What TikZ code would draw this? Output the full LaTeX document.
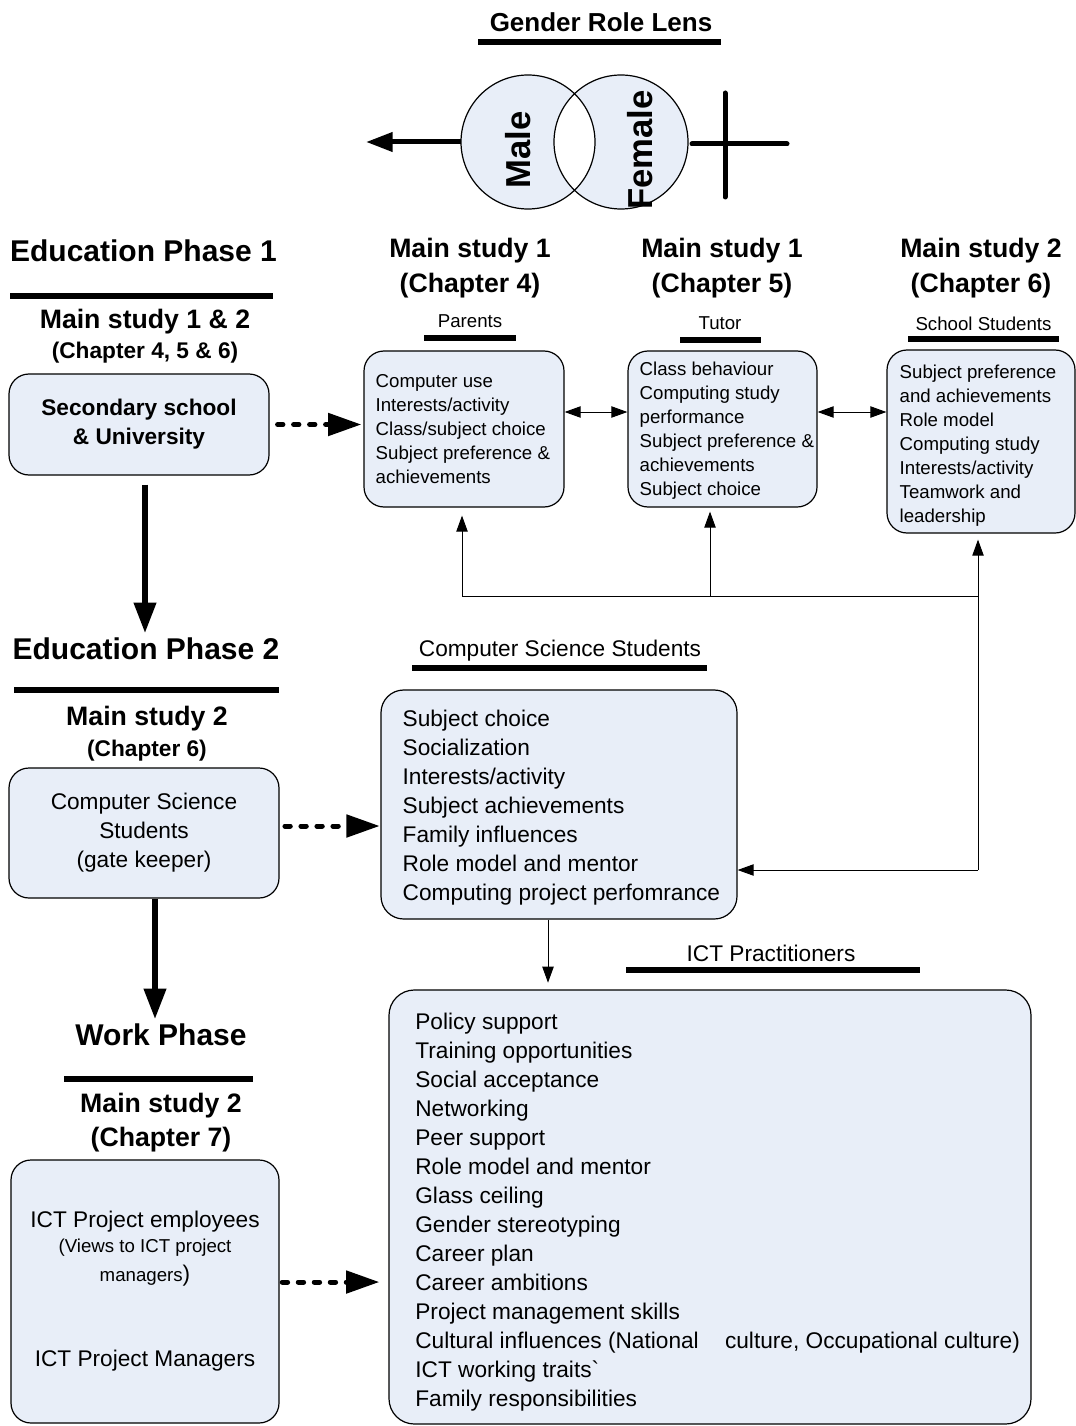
\documentclass[tikz,border=0pt]{standalone}
\usepackage{fontspec}
\setmainfont{Liberation Sans}
\usetikzlibrary{arrows.meta}
\definecolor{boxfill}{RGB}{232,238,248}
\begin{document}
\begin{tikzpicture}[x=0.75pt,y=-0.75pt,
  box/.style={draw=black, line width=0.9pt, fill=boxfill, rounded corners=15pt, inner sep=0pt},
  boxtext/.style={align=left, anchor=west, inner sep=0pt},
  titlef/.style={font=\fontsize{19.5}{23}\selectfont\bfseries},
  hdr/.style={font=\fontsize{22.5}{27}\selectfont\bfseries},
  ms/.style={font=\fontsize{20}{24}\selectfont\bfseries},
  chap/.style={font=\fontsize{17}{20}\selectfont\bfseries},
  lbl/.style={font=\fontsize{17}{21.75}\selectfont},
  small/.style={font=\fontsize{14}{18}\selectfont},
  bar/.style={line width=4.5pt},
  bigarrow/.style={line width=4.5pt, -{Triangle[length=23pt,width=16pt]}},
  dasharrow/.style={line width=3.75pt, dash pattern=on 4pt off 8pt, line cap=round, -{Triangle[length=25pt,width=16.5pt]}},
  thinarrow/.style={line width=0.75pt, -{Triangle[length=12pt,width=8.5pt]}},
  dblarrow/.style={line width=0.75pt, {Triangle[length=12pt,width=8.5pt]}-{Triangle[length=12pt,width=8.5pt]}}
]
\useasboundingbox (0,0) rectangle (1075,1426);

% ---------- Gender role lens ----------
\node[titlef] (title) at (601,22) {Gender Role Lens};
\draw[bar] (478,42) -- (721,42);
\fill[boxfill] (528,142) circle[radius=50.25pt];
\fill[boxfill] (621,142) circle[radius=50.25pt];
\begin{scope}
  \clip (528,142) circle[radius=50.25pt];
  \fill[white] (621,142) circle[radius=50.25pt];
\end{scope}
\draw[line width=0.9pt] (528,142) circle[radius=50.25pt];
\draw[line width=0.9pt] (621,142) circle[radius=50.25pt];
\node[rotate=90, font=\fontsize{26}{30}\selectfont\bfseries] (maletxt) at (518,150) {Male};
\node[rotate=90, font=\fontsize{26}{30}\selectfont\bfseries] (femaletxt) at (640,150) {Female};
\coordinate (mw) at (461,142);
\coordinate (mtip) at (366,142);
\draw[line width=3.75pt, -{Triangle[length=20pt,width=14pt]}] (mw) -- (mtip);
\draw[line width=3.75pt, line cap=round] (692,144) -- (787,144);
\draw[line width=3.75pt, line cap=round] (725,93) -- (725,197);

% ---------- Education phase 1 ----------
\node[hdr] (ep1) at (143.5,251) {Education Phase 1};
\draw[bar] (10,296) -- (273,296);
\node[ms] (ms12) at (145,322) {Main study 1 \& 2};
\node[chap] (ch456) at (145,353) {(Chapter 4, 5 \& 6)};
\node[box, minimum width=195pt, minimum height=75.75pt, align=center,
      font=\fontsize{17}{21.75}\selectfont\bfseries] (sec) at (139,424.5)
      {Secondary school\\\& University};

\node[ms] (m4a) at (470,251) {Main study 1};
\node[ms] (m4b) at (470,286) {(Chapter 4)};
\node[ms] (m5a) at (722,251) {Main study 1};
\node[ms] (m5b) at (722,286) {(Chapter 5)};
\node[ms] (m6a) at (981,251) {Main study 2};
\node[ms] (m6b) at (981,286) {(Chapter 6)};

\node[small] (par) at (470,321) {Parents};
\draw[bar] (424,338) -- (516,338);
\node[small] (tut) at (720,323) {Tutor};
\draw[bar] (680,340) -- (761,340);
\node[small] (sst) at (983.5,324) {School Students};
\draw[bar] (908,339) -- (1059,339);

\node[box, minimum width=150pt, minimum height=117pt] (b1) at (464,429) {};
\node[boxtext, small] (b1t) at ([xshift=9pt]b1.west)
  {Computer use\\Interests/activity\\Class/subject choice\\Subject preference \&\\achievements};
\node[box, minimum width=141.75pt, minimum height=117pt] (b2) at (722.5,429) {};
\node[boxtext, small] (b2t) at ([xshift=9pt,yshift=-1pt]b2.west)
  {Class behaviour\\Computing study\\performance\\Subject preference \&\\achievements\\Subject choice};
\node[box, minimum width=141pt, minimum height=137.25pt] (b3) at (981,441.5) {};
\node[boxtext, small] (b3t) at ([xshift=9.75pt,yshift=-3.5pt]b3.west)
  {Subject preference\\and achievements\\Role model\\Computing study\\Interests/activity\\Teamwork and\\leadership};

\draw[dasharrow, shorten <=6pt, shorten >=1.5pt] (sec.east) -- (sec.east -| b1.west);
\draw[dblarrow] ([yshift=12.75pt]b1.east) -- ([yshift=12.75pt]b1.east -| b2.west);
\draw[dblarrow] ([yshift=12.75pt]b2.east) -- ([yshift=12.75pt]b2.east -| b3.west);

% ---------- Education phase 2 ----------
\node[hdr] (ep2) at (146,649) {Education Phase 2};
\draw[bar] (14,690) -- (279,690);
\node[ms] (ms2) at (147,719) {Main study 2};
\node[chap] (ch6) at (147,751) {(Chapter 6)};
\node[box, lbl, minimum width=202.5pt, minimum height=97.5pt, align=center] (csl) at (144,833)
  {Computer Science\\Students\\(gate keeper)};

\node[lbl] (csslbl) at (560,651) {Computer Science Students};
\draw[bar] (412,668) -- (707,668);
\node[box, rounded corners=17pt, minimum width=267pt, minimum height=171.75pt] (csr) at (559,804.5) {};
\node[boxtext, lbl] (csrt) at ([xshift=16.5pt,yshift=-2pt]csr.west)
  {Subject choice\\Socialization\\Interests/activity\\Subject achievements\\Family influences\\Role model and mentor\\Computing project perfomrance};

\draw[bigarrow, shorten <=6.75pt] ([xshift=4.5pt]sec.south) -- ([xshift=4.5pt]sec.south |- ep2.north);
\draw[dasharrow, shorten <=4pt, shorten >=0.5pt] ([yshift=5.25pt]csl.east) -- ([yshift=5.25pt]csl.east -| csr.west);

% feedback connectors
\coordinate (j1) at (978,870);
\coordinate (j2) at (978,596);
\coordinate (j3) at (462,596);
\coordinate (j4) at (710,596);
\draw[thinarrow] (j1) -- (j1 -| csr.east);
\draw[thinarrow, shorten >=4.5pt] (j1) -- (j1 |- b3.south);
\draw[line width=0.75pt] (j2) -- (j3);
\draw[thinarrow, shorten >=6pt] (j3) -- (j3 |- b1.south);
\draw[thinarrow, shorten >=3pt] (j4) -- (j4 |- b2.south);

% ---------- Work phase ----------
\node[hdr] (wp) at (161,1035) {Work Phase};
\draw[bar] (64,1079) -- (253,1079);
\node[ms] (ms2b) at (161,1106) {Main study 2};
\node[ms] (ch7) at (161,1140) {(Chapter 7)};
\draw[bigarrow] ([xshift=8.25pt]csl.south) -- ([xshift=8.25pt]csl.south |- wp.north);

\node[box, minimum width=201pt, minimum height=197.25pt] (ictl) at (145,1291.5) {};
\node[lbl] (ict1) at (145,1222) {ICT Project employees};
\node[font=\fontsize{14}{21.75}\selectfont, align=center] (ict2) at (145,1263)
  {(Views to ICT project\\managers{\fontsize{17}{20}\selectfont)}};
\node[lbl] (ict3) at (145,1361) {ICT Project Managers};

\node[lbl] (ictlbl) at (771,953) {ICT Practitioners};
\draw[bar] (626,970) -- (920,970);
\node[box, rounded corners=19pt, minimum width=481.5pt, minimum height=325.5pt] (ictr) at (710,1207) {};
\node[boxtext, lbl] (ictrt) at ([xshift=20pt,yshift=-3.5pt]ictr.west)
  {Policy support\\Training opportunities\\Social acceptance\\Networking\\Peer support\\Role model and mentor\\Glass ceiling\\Gender stereotyping\\Career plan\\Career ambitions\\Project management skills\\Cultural influences (National\hspace{15pt} culture, Occupational culture)\\ICT working traits\textasciigrave\\Family responsibilities};

\draw[thinarrow, shorten >=5pt] ([xshift=-8.25pt]csr.south) -- ([xshift=-8.25pt]csr.south |- ictr.north);
\draw[dasharrow, shorten <=2pt, shorten >=6.75pt] ([yshift=7.1pt]ictl.east) -- ([yshift=7.1pt]ictl.east -| ictr.west);
\end{tikzpicture}
\end{document}
